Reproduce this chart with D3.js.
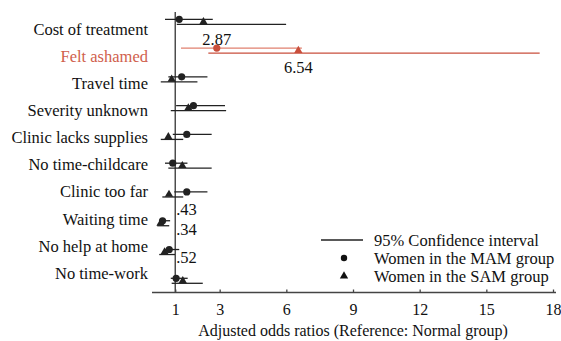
<html>
<head>
  <script src="https://cdn.jsdelivr.net/npm/d3@7"></script>
</head>
<style>
  body { margin: 0; background: white; }
</style>
<body>
  <svg width="561" height="341" id="chart"></svg>
  <script>
    // rows, top to bottom
    var categories = ['Cost of treatment', 'Felt ashamed', 'Travel time', 'Severity unknown',
      'Clinic lacks supplies', 'No time-childcare', 'Clinic too far', 'Waiting time',
      'No help at home', 'No time-work'];
    // MAM group (circles)
    var mamOR  = [1.18, 2.87, 1.29, 1.82, 1.52, 0.89, 1.52, 0.43, 0.73, 1.04];
    var mamLow = [0.54, 1.26, 0.69, 1.04, 0.89, 0.54, 0.96, 0.32, 0.54, 0.80];
    var mamHigh= [2.69, 6.70, 2.45, 3.24, 2.64, 1.55, 2.45, 0.77, 1.18, 1.56];
    // SAM group (triangles)
    var samOR  = [2.27, 6.54, 0.84, 1.59, 0.69, 1.32, 0.72, 0.34, 0.52, 1.34];
    var samLow = [1.07, 2.49, 0.35, 0.80, 0.35, 0.69, 0.42, 0.19, 0.28, 0.84];
    var samHigh= [5.99, 17.4, 2.00, 3.29, 1.36, 2.64, 1.36, 0.73, 0.99, 2.24];
    var xTicks = [1, 3, 6, 9, 12, 15, 18];
    // value labels shown next to markers: [row, group, text]
    var valueLabels = [
      [1, 'mam', '2.87'], [1, 'sam', '6.54'],
      [7, 'mam', '.43'], [7, 'sam', '.34'], [8, 'sam', '.52']
    ];
    var highlight = 'Felt ashamed';
    var FONT = "'Liberation Serif', 'DejaVu Serif', 'Noto Serif', serif";

    var svg = d3.select('#chart');
    var x = d3.scaleLinear().domain([0, 18]).range([153, 553]);
    var y = d3.scalePoint().domain(categories).range([19.3, 278.3]);
    var yLab = d3.scalePoint().domain(categories).range([29, 273]);
    var axisY = 292.5;

    function col(c, light) {
      if (c !== highlight) return '#222';
      return light ? '#e0806f' : '#c94f3c';
    }

    // reference line at OR = 1
    svg.append('line')
      .attr('x1', x(1)).attr('x2', x(1))
      .attr('y1', 12).attr('y2', axisY)
      .attr('stroke', '#333').attr('stroke-width', 1.3);

    // x axis
    var xAxis = d3.axisBottom(x).tickValues(xTicks).tickSizeInner(-3).tickSizeOuter(0).tickPadding(11);
    var gx = svg.append('g').attr('transform', 'translate(0,' + axisY + ')').call(xAxis);
    gx.attr('font-family', FONT).attr('font-size', 16);
    gx.select('.domain').attr('d', 'M152,0H556').attr('stroke', '#444').attr('stroke-width', 1.3);
    gx.selectAll('.tick line').attr('stroke', '#444').attr('stroke-width', 1.3);
    gx.selectAll('.tick text').attr('fill', '#111');

    svg.append('text')
      .attr('x', x(9)).attr('y', 336)
      .attr('text-anchor', 'middle')
      .attr('font-family', FONT)
      .attr('font-size', 16).attr('fill', '#111')
      .text('Adjusted odds ratios (Reference: Normal group)');

    // category labels
    svg.selectAll('.cat')
      .data(categories)
      .enter()
      .append('text')
      .attr('class', 'cat')
      .attr('x', 148)
      .attr('y', function (d) { return yLab(d); })
      .attr('dy', '0.35em')
      .attr('text-anchor', 'end')
      .attr('font-family', FONT)
      .attr('font-size', 16.5)
      .attr('fill', function (d) { return d === highlight ? '#d0604c' : '#111'; })
      .text(function (d) { return d; });

    var rows = categories.map(function (c, i) {
      return { c: c, mam: mamOR[i], mamL: mamLow[i], mamH: mamHigh[i],
               sam: samOR[i], samL: samLow[i], samH: samHigh[i] };
    });

    // CI lines
    svg.selectAll('.ciMam')
      .data(rows).enter().append('line')
      .attr('x1', function (d) { return x(d.mamL); })
      .attr('x2', function (d) { return x(d.mamH); })
      .attr('y1', function (d) { return y(d.c); })
      .attr('y2', function (d) { return y(d.c); })
      .attr('stroke', function (d) { return col(d.c, true); })
      .attr('stroke-width', 1.3);
    svg.selectAll('.ciSam')
      .data(rows).enter().append('line')
      .attr('x1', function (d) { return x(d.samL); })
      .attr('x2', function (d) { return x(d.samH); })
      .attr('y1', function (d) { return y(d.c) + 5; })
      .attr('y2', function (d) { return y(d.c) + 5; })
      .attr('stroke', function (d) { return col(d.c, false); })
      .attr('stroke-width', 1.3);

    // markers
    var tri = d3.symbol().type(d3.symbolTriangle).size(30);
    svg.selectAll('.mam')
      .data(rows).enter().append('circle')
      .attr('cx', function (d) { return x(d.mam); })
      .attr('cy', function (d) { return y(d.c); })
      .attr('r', 3.6)
      .attr('fill', function (d) { return col(d.c, false); });
    svg.selectAll('.sam')
      .data(rows).enter().append('path')
      .attr('d', tri)
      .attr('transform', function (d) { return 'translate(' + x(d.sam) + ',' + (y(d.c) + 2.5) + ')'; })
      .attr('fill', function (d) { return col(d.c, false); });

    // value labels
    svg.selectAll('.val')
      .data(valueLabels).enter().append('text')
      .attr('x', function (d) {
        var i = d[0];
        if (i === 1) return x(d[1] === 'mam' ? mamOR[i] : samOR[i]);
        return x(1) + 1;
      })
      .attr('y', function (d) {
        var yy = y(categories[d[0]]);
        if (d[0] === 1) return d[1] === 'mam' ? yy - 9 : yy + 19;
        return yy + (d[1] === 'mam' ? -11.5 : 8);
      })
      .attr('dy', '0.35em')
      .attr('text-anchor', function (d) { return d[0] === 1 ? 'middle' : 'start'; })
      .attr('font-family', FONT)
      .attr('font-size', 16.5).attr('fill', '#111')
      .text(function (d) { return d[2]; });

    // legend
    var leg = svg.append('g');
    leg.append('line').attr('x1', 321).attr('x2', 363).attr('y1', 240).attr('y2', 240)
      .attr('stroke', '#222').attr('stroke-width', 1.3);
    leg.append('circle').attr('cx', 344).attr('cy', 258).attr('r', 3.2).attr('fill', '#111');
    leg.append('path').attr('d', tri).attr('transform', 'translate(344,276)').attr('fill', '#111');
    var legText = ['95% Confidence interval', 'Women in the MAM group', 'Women in the SAM group'];
    leg.selectAll('text').data(legText).enter().append('text')
      .attr('x', 374).attr('y', function (d, i) { return 240 + i * 18; })
      .attr('dy', '0.35em')
      .attr('font-family', FONT)
      .attr('font-size', 16.5).attr('fill', '#111')
      .text(function (d) { return d; });
  </script>
</body>
</html>
